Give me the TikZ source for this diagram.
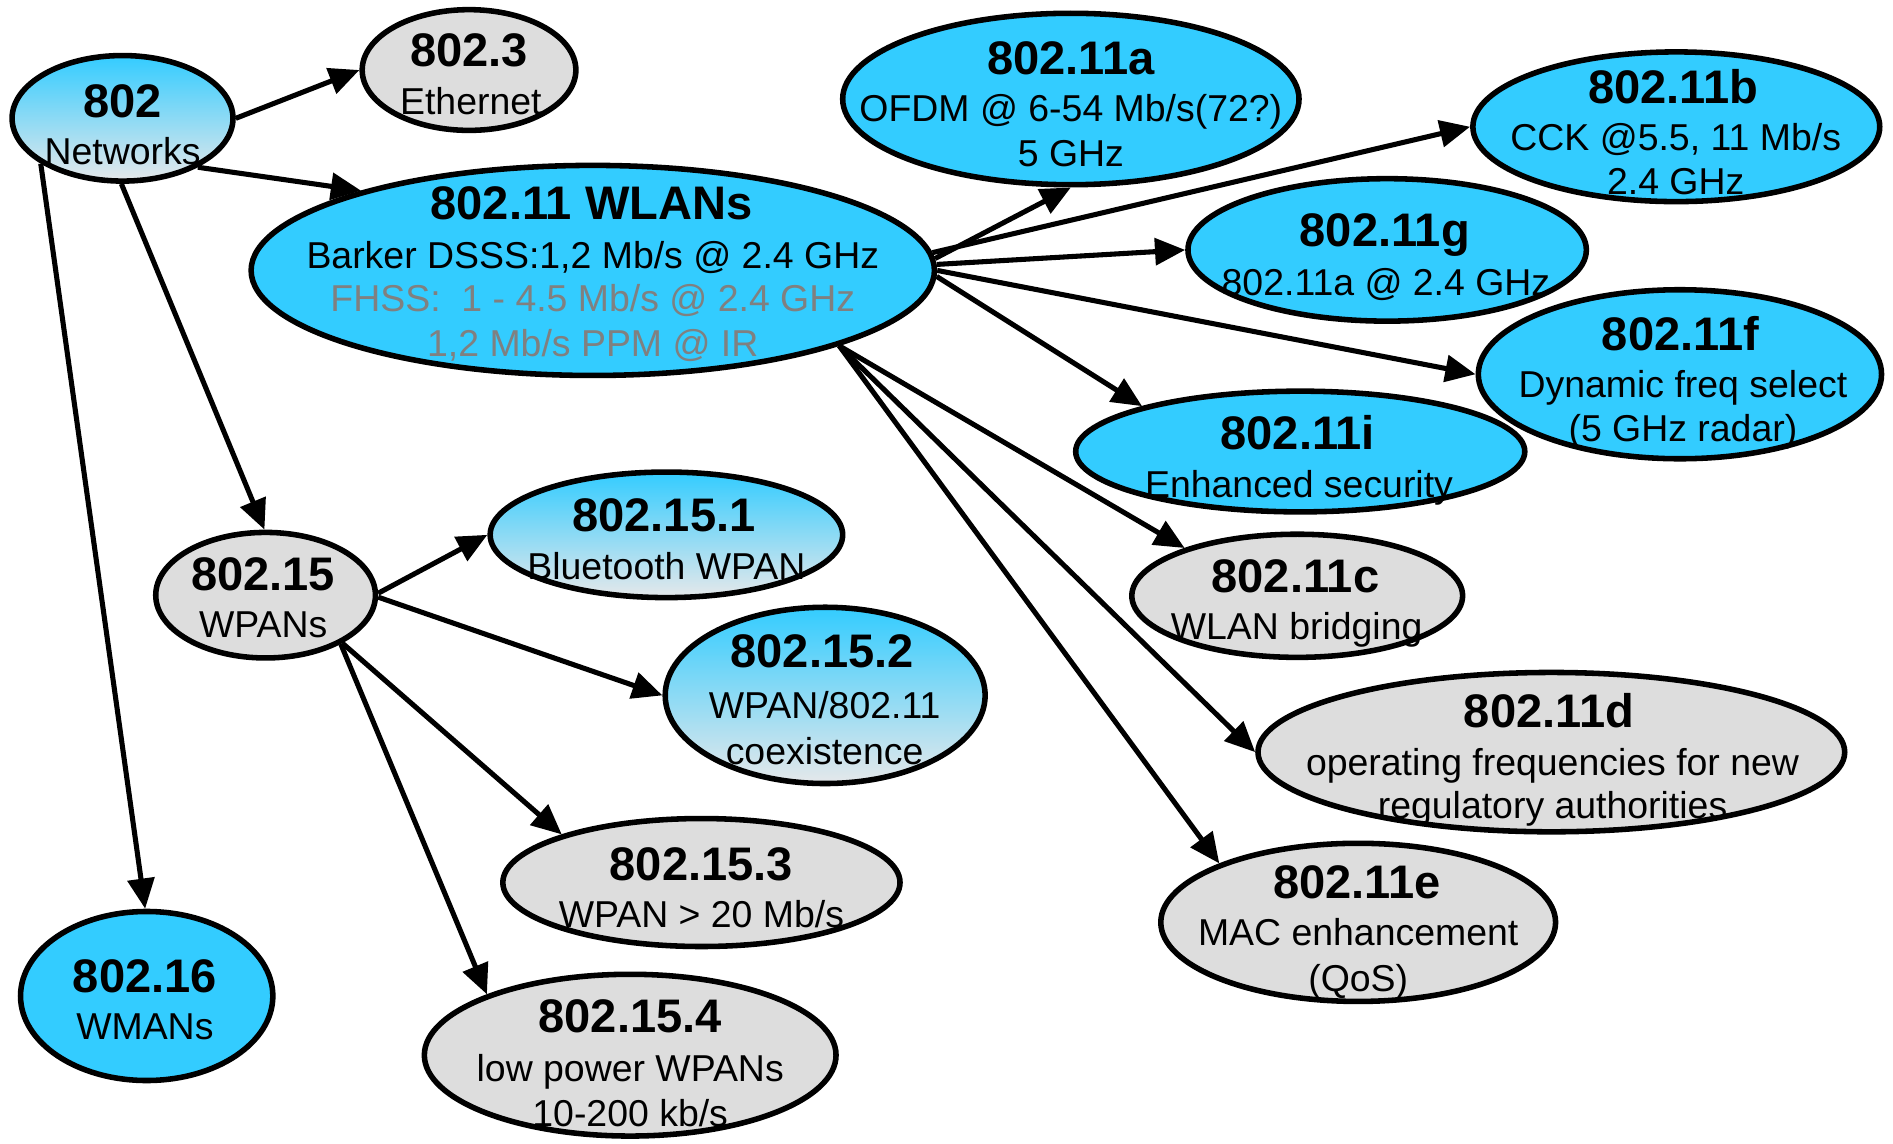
\documentclass[tikz,border=0pt]{standalone}
\usepackage{fontspec}
\setmainfont{Liberation Sans}
\usetikzlibrary{shapes.geometric,arrows.meta}
\definecolor{cyanC}{HTML}{33CCFF}
\definecolor{greyC}{HTML}{DDDDDD}
\definecolor{fadeC}{HTML}{E6E8EA}
\definecolor{txtgrey}{HTML}{808080}
\tikzset{
  ell/.style={ellipse, draw=black, line width=4.6pt, inner sep=0pt},
  cy/.style={ell, fill=cyanC},
  gr/.style={ell, fill=greyC},
  gd/.style={ell, top color=cyanC, bottom color=fadeC},
  ttl/.style={anchor=base, font=\fontsize{39}{40}\selectfont\bfseries, inner sep=0pt},
  bdy/.style={anchor=base, font=\fontsize{31}{32}\selectfont, inner sep=0pt},
  arr/.style={line width=4.2pt, -{Triangle[length=25pt,width=22pt]}},
}
\begin{document}
\begin{tikzpicture}[x=1pt,y=-1pt]
\useasboundingbox (0,0) rectangle (1568,946.8);
% ellipses
\node[gd, minimum width=183, minimum height=104] (n802) at (101.5,98) {};
\node[gr, minimum width=177, minimum height=100] (n3) at (388.5,58) {};
\node[cy, minimum width=566, minimum height=174] (wl) at (491,224) {};
\node[cy, minimum width=378, minimum height=142] (a) at (887,82) {};
\node[cy, minimum width=337, minimum height=124] (b) at (1388.5,105) {};
\node[cy, minimum width=330, minimum height=118] (g) at (1149,207) {};
\node[cy, minimum width=334, minimum height=140] (f) at (1391.5,310) {};
\node[cy, minimum width=372, minimum height=100] (i) at (1077,374) {};
\node[gr, minimum width=274, minimum height=102] (c) at (1074.5,493.5) {};
\node[gr, minimum width=486, minimum height=132] (d) at (1285,623) {};
\node[gr, minimum width=327, minimum height=131] (e) at (1125,764) {};
\node[gr, minimum width=182, minimum height=104] (p15) at (220,493) {};
\node[gd, minimum width=292, minimum height=104] (p1) at (552,443) {};
\node[gd, minimum width=265, minimum height=146] (p2) at (683.5,576) {};
\node[gr, minimum width=329, minimum height=106] (p3) at (581,731) {};
\node[gr, minimum width=341, minimum height=134] (p4) at (522,874) {};
\node[cy, minimum width=209, minimum height=140] (m16) at (121.5,825) {};
% texts
\node[ttl] (t802) at (101.5,97) {802};
\node[bdy] (t802b) at (101.5,136) {Networks};
\node[ttl] (t3) at (388.5,55) {802.3};
\node[bdy] (t3b) at (390,95) {Ethernet};
\node[ttl] (twl) at (490,182) {802.11 WLANs};
\node[bdy] (twl1) at (491,222) {Barker DSSS:1,2 Mb/s @ 2.4 GHz};
\node[bdy, text=txtgrey] (twl2) at (491,258) {FHSS:\ \ 1 - 4.5 Mb/s @ 2.4 GHz};
\node[bdy, text=txtgrey] (twl3) at (491,295) {1,2 Mb/s PPM @ IR};
\node[ttl] (ta) at (887,61.5) {802.11a};
\node[bdy] (ta1) at (887,101) {OFDM @ 6-54 Mb/s(72?)};
\node[bdy] (ta2) at (887,138) {5 GHz};
\node[ttl] (tb) at (1386,86) {802.11b};
\node[bdy] (tb1) at (1388,125) {CCK @5.5, 11 Mb/s};
\node[bdy] (tb2) at (1388,161) {2.4 GHz};
\node[ttl] (tg) at (1147,204) {802.11g};
\node[bdy] (tg1) at (1148,245) {802.11a @ 2.4 GHz};
\node[ttl] (tf) at (1392,290) {802.11f};
\node[bdy] (tf1) at (1394,329) {Dynamic freq select};
\node[bdy] (tf2) at (1394,366) {(5 GHz radar)};
\node[ttl] (ti) at (1075,372) {802.11i};
\node[bdy] (ti1) at (1076,412) {Enhanced security};
\node[ttl] (tc) at (1073,491) {802.11c};
\node[bdy] (tc1) at (1074,530) {WLAN bridging};
\node[ttl] (td) at (1283,603) {802.11d};
\node[bdy] (td1) at (1286,642) {operating frequencies for new};
\node[bdy] (td2) at (1286,678) {regulatory authorities};
\node[ttl] (te) at (1124,744) {802.11e};
\node[bdy] (te1) at (1125,783) {MAC enhancement};
\node[bdy] (te2) at (1125,821) {(QoS)};
\node[ttl] (tp15) at (218,489) {802.15};
\node[bdy] (tp15b) at (218,528) {WPANs};
\node[ttl] (tp1) at (550,440) {802.15.1};
\node[bdy] (tp1b) at (552,480) {Bluetooth WPAN};
\node[ttl] (tp2) at (681,553) {802.15.2};
\node[bdy] (tp2a) at (683,595) {WPAN/802.11};
\node[bdy] (tp2b) at (683,633) {coexistence};
\node[ttl] (tp3) at (581,729) {802.15.3};
\node[bdy] (tp3b) at (581,768) {WPAN > 20 Mb/s};
\node[ttl] (tp4) at (522,855) {802.15.4};
\node[bdy] (tp4a) at (522,896) {low power WPANs};
\node[bdy] (tp4b) at (522,933) {10-200 kb/s};
\node[ttl] (tm16) at (120,822) {802.16};
\node[bdy] (tm16b) at (120,861) {WMANs};
% connectors
\draw[arr] (n802.0) -- (n3.180);
\draw[arr] (n802.-33.3) -- (wl.161.7);
\draw[arr] (n802.-91) -- (p15.91);
\draw[arr] (n802.209.9) -- (m16.91);
\draw[arr] (p15.1) -- (p1.180);
\draw[arr] (p15.-1) -- (p2.180);
\draw[arr] (p15.-32) -- (p3.161.4);
\draw[arr] (p15.-33) -- (p4.157);
\draw[arr] (wl.2) -- (a.-90);
\draw[arr] (wl.3) -- (b.180);
\draw[arr] (wl.1) -- (g.180);
\draw[arr] (wl.0) -- (f.180);
\draw[arr] (wl.-1) -- (i.164.2);
\draw[arr] (wl.-17.2) -- (c.157.3);
\draw[arr] (wl.-17.2) -- (d.180);
\draw[arr] (wl.-17.2) -- (e.157.4);
\end{tikzpicture}
\end{document}
